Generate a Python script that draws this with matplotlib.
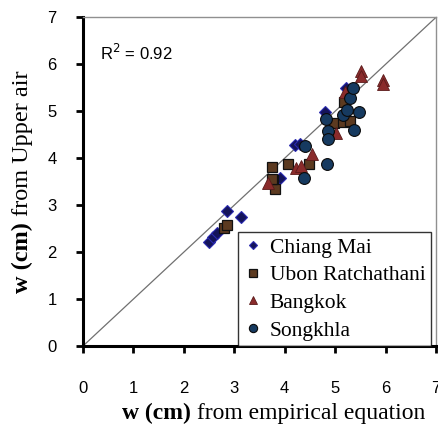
import matplotlib
matplotlib.use('Agg')
import matplotlib.pyplot as plt
import numpy as np

# data: (empirical, upper air)
cm_x = [2.50, 2.58, 2.66, 2.86, 3.14, 3.90, 4.21, 4.31, 4.79, 5.21]
cm_y = [2.21, 2.32, 2.40, 2.87, 2.74, 3.57, 4.28, 4.30, 4.98, 5.49]

ub_x = [2.80, 2.86, 3.74, 3.76, 3.80, 3.74, 4.06, 4.49, 4.97, 5.15, 5.29, 5.17]
ub_y = [2.51, 2.57, 3.81, 3.53, 3.34, 3.55, 3.87, 3.87, 4.74, 4.77, 4.79, 5.19]

bk_x = [3.66, 4.23, 4.33, 4.55, 5.01, 5.19, 5.51, 5.51, 5.94, 5.94]
bk_y = [3.47, 3.79, 3.83, 4.09, 4.53, 5.41, 5.85, 5.76, 5.66, 5.57]

sk_x = [4.39, 4.41, 4.83, 4.81, 4.85, 4.85, 5.15, 5.23, 5.29, 5.35, 5.37, 5.47]
sk_y = [3.57, 4.26, 3.87, 4.83, 4.57, 4.40, 4.91, 5.02, 5.28, 5.49, 4.60, 4.98]

r2_text = 'R$^2$ = 0.92'
ticks = [0, 1, 2, 3, 4, 5, 6, 7]

fig = plt.figure(figsize=(4.38, 4.28), dpi=100)
ax = fig.add_axes([0.1895, 0.1916, 0.806, 0.768])

ax.plot([0, 7], [0, 7], color='#707070', lw=0.9, zorder=1)

ax.plot(cm_x, cm_y, 'D', ms=6, mfc='#14145a', mec='#2a2ab0', mew=0.8,
        ls='none', label='Chiang Mai', zorder=3)
ax.plot(ub_x, ub_y, 's', ms=7.5, mfc='#5c3a20', mec='#111111', mew=0.9,
        ls='none', label='Ubon Ratchathani', zorder=3)
ax.plot(bk_x, bk_y, '^', ms=8.5, mfc='#8a2b2b', mec='#5a1a1a', mew=0.6,
        ls='none', label='Bangkok', zorder=3)
ax.plot(sk_x, sk_y, 'o', ms=8.5, mfc='#163a60', mec='#0a0a0a', mew=0.8,
        ls='none', label='Songkhla', zorder=3)

ax.set_xlim(0, 7)
ax.set_ylim(0, 7)
ax.set_xticks(ticks)
ax.set_yticks(ticks)
ax.tick_params(axis='both', direction='out', length=5, width=2, labelsize=12)
ax.tick_params(axis='x', pad=20)
ax.tick_params(axis='y', pad=14)
for lab in ax.get_xticklabels() + ax.get_yticklabels():
    lab.set_family('Liberation Sans')
ax.spines['left'].set_linewidth(2.2)
ax.spines['bottom'].set_linewidth(2.2)
ax.spines['top'].set_color('#909090')
ax.spines['right'].set_color('#909090')
ax.spines['top'].set_linewidth(1)
ax.spines['right'].set_linewidth(1)

ax.text(0.34, 6.23, r2_text, fontsize=12, family='Liberation Sans', va='center')

leg = ax.legend(loc='lower right', bbox_to_anchor=(0.985, 0.0),
                prop={'family': 'Liberation Serif', 'size': 15.5},
                frameon=True, fancybox=False, edgecolor='black',
                labelspacing=0.35, handletextpad=0.3, handlelength=0.9,
                borderpad=0.25, borderaxespad=0.0, markerscale=0.7)
leg.get_frame().set_linewidth(1)

# x label: bold part + normal part
t1 = fig.text(0.278, 0.022, 'w (cm)', fontsize=17, weight='bold',
              family='Liberation Serif', va='baseline')
fig.canvas.draw()
ax.annotate(' from empirical equation', xy=(1, 0), xycoords=t1,
            fontsize=17, family='Liberation Serif', va='bottom', ha='left')

# y label
t2 = fig.text(0.052, 0.315, 'w (cm)', fontsize=17.5, weight='bold',
              family='Liberation Serif', rotation=90, ha='center', va='bottom')
fig.canvas.draw()
ax.annotate(' from Upper air', xy=(0.5, 1), xycoords=t2,
            fontsize=17.5, family='Liberation Serif', rotation=90,
            ha='center', va='bottom')

fig.savefig('out.png', dpi=100)
